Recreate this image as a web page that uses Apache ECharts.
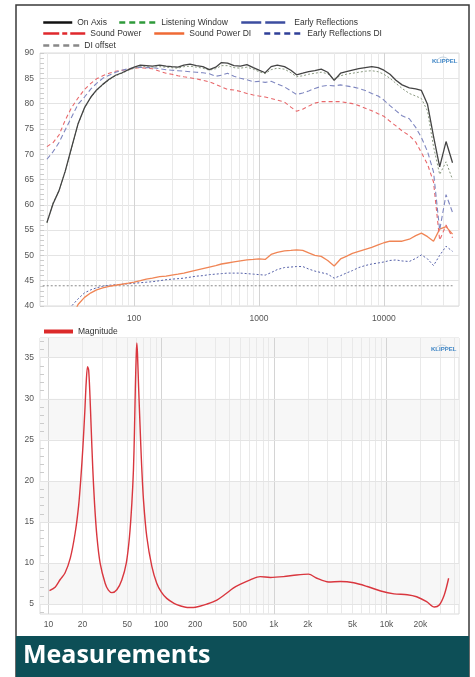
<!DOCTYPE html>
<html>
<head>
<meta charset="utf-8">
<script src="https://cdn.jsdelivr.net/npm/echarts@6/dist/echarts.min.js"></script>
<style>
  html, body { margin: 0; padding: 0; background: #fff; }
  #chart { width: 475px; height: 677px; }
</style>
</head>
<body>
<div id="chart"></div>
<script>
// --- top chart: spinorama (dB), 1/6 octave points ---
const freqs = [20, 22.4, 25, 28, 31.5, 35.5, 40, 45, 50, 56, 63, 71, 80, 90, 100, 112, 125, 140, 160, 180,
  200, 224, 250, 280, 315, 355, 400, 450, 500, 560, 630, 710, 800, 900, 1000, 1120, 1250, 1400, 1600, 1800,
  2000, 2240, 2500, 2800, 3150, 3550, 4000, 4500, 5000, 5600, 6300, 7100, 8000, 9000, 10000, 11200, 12500, 14000, 16000, 18000,
  20000, 22400, 25000, 28000, 31500, 35500]
const onAxis = [56.5, 60.2, 62.8, 66.6, 71.3, 76.0, 79.2, 81.3, 82.7, 83.8, 84.8, 85.6, 86.1, 86.7, 87.2, 87.6, 87.5, 87.4, 87.6, 87.4,
  87.3, 87.2, 87.6, 87.8, 87.5, 87.3, 86.7, 87.2, 88.1, 88.0, 87.5, 87.4, 87.7, 87.1, 86.6, 86.1, 87.3, 87.6, 87.3, 86.6,
  85.7, 86.0, 86.3, 86.5, 86.8, 86.2, 84.6, 86.0, 86.3, 86.6, 86.9, 87.1, 87.3, 87.1, 86.6, 85.8, 84.6, 83.7, 83.1, 82.9,
  82.6, 79.8, 73.5, 67.5, 72.5, 68.3]
const listeningWindow = [56.4, 60.4, 62.8, 66.6, 71.2, 75.9, 79.1, 81.2, 82.6, 83.7, 84.7, 85.5, 86.0, 86.6, 87.0, 87.3, 87.3, 87.2, 87.3, 87.2,
  87.1, 87.0, 87.3, 87.4, 87.2, 87.0, 86.6, 86.9, 87.5, 87.5, 87.1, 87.0, 87.2, 86.8, 86.3, 85.9, 86.7, 87.0, 86.8, 86.1,
  85.3, 85.5, 85.8, 86.0, 86.2, 85.9, 84.9, 85.5, 85.8, 86.0, 86.2, 86.4, 86.5, 86.3, 85.8, 85.0, 84.0, 83.0, 82.0, 81.5,
  81.0, 78.5, 71.5, 66.0, 68.5, 65.0]
const earlyReflections = [69, 70.5, 72.3, 74.8, 77.3, 79.9, 81.3, 82.9, 84.0, 85.0, 85.6, 86.2, 86.6, 86.9, 87.1, 87.2, 87.1, 87.1, 86.9, 86.7,
  86.6, 86.5, 86.4, 86.3, 86.2, 86.1, 85.9, 85.4, 85.6, 86.0, 85.4, 85.0, 84.7, 84.3, 84.4, 84.2, 84.4, 83.9, 83.3, 82.5,
  81.8, 82.1, 82.5, 83.0, 83.4, 83.6, 83.5, 83.7, 83.5, 83.3, 83.0, 82.6, 82.0, 81.5, 80.7, 79.6, 78.6, 77.6, 77.0, 75.3,
  73.3, 70.5, 66.5, 55, 62, 58.5]
const soundPower = [71.5, 72.3, 73.8, 76.7, 79.2, 81.1, 82.8, 84.0, 84.9, 85.5, 86.0, 86.4, 86.6, 86.8, 87.0, 87.1, 87.0, 86.9, 86.4, 86.0,
  85.8, 85.5, 85.3, 85.1, 84.9, 84.6, 84.3, 83.8, 83.3, 82.8, 82.7, 82.4, 82.0, 81.7, 81.5, 81.3, 81.0, 80.7, 80.3, 79.3,
  78.5, 78.9, 79.5, 80.1, 80.4, 80.4, 80.4, 80.4, 80.2, 80.0, 79.6, 79.1, 78.6, 78.0, 77.5, 76.5, 75.6, 74.6, 73.7, 72.4,
  70.3, 68.0, 64.5, 53, 56, 53.5]
const soundPowerDI = [30, 32, 34, 35.5, 37.5, 40.3, 41.7, 42.6, 43.2, 43.6, 43.9, 44.1, 44.3, 44.5, 44.7, 45.0, 45.3, 45.5, 45.8, 45.9,
  46.1, 46.3, 46.5, 46.8, 47.1, 47.4, 47.7, 48.0, 48.3, 48.5, 48.7, 48.9, 49.1, 49.2, 49.3, 49.2, 50.2, 50.6, 50.9, 51.0,
  51.1, 51.0, 50.5, 50.0, 49.8, 49.0, 47.9, 49.3, 49.8, 50.4, 50.8, 51.2, 51.6, 52.1, 52.5, 52.8, 52.8, 52.8, 53.2, 53.9,
  54.4, 53.7, 52.8, 55.2, 55.7, 54.2]
const earlyReflectionsDI = [32, 34, 36, 38, 40, 41.4, 42.6, 43.2, 43.6, 43.9, 44.1, 44.2, 44.3, 44.4, 44.5, 44.6, 44.7, 44.8, 45.0, 45.2,
  45.3, 45.4, 45.5, 45.7, 45.9, 46.0, 46.2, 46.3, 46.4, 46.5, 46.5, 46.5, 46.4, 46.3, 46.2, 46.1, 46.6, 47.2, 47.6, 47.7,
  47.8, 47.8, 47.3, 46.9, 46.6, 46.3, 45.5, 46.0, 46.5, 47.0, 47.6, 48.0, 48.3, 48.5, 48.7, 49.0, 49.1, 48.9, 48.8, 49.4,
  50.1, 49.3, 48.0, 50.0, 51.8, 50.8]
const diOffsetFreqs = [18.5, 35500]
const diOffset = [44, 44]

// --- bottom chart: impedance magnitude (ohm) ---
const impFreqs = [10.2, 11.5, 12.7, 14, 15.6, 17.2, 18.5, 19.4, 20.2, 21, 21.6, 22.2, 22.7, 23.3, 23.9, 24.7, 25.6, 26.9, 28.7, 31.8,
  34, 36.5, 40.4, 44.7, 49, 52.3, 54.9, 56.7, 57.9, 59, 60.1, 60.8, 61.6, 63, 65, 67, 69.7, 74.5, 82.6, 91.3,
  100, 112, 130, 147, 170, 193, 220, 254, 312, 370, 436, 501, 617, 756, 929, 1217, 1590, 2030, 2410, 3060,
  3890, 5120, 6750, 8880, 11660, 15300, 18500, 22700, 26600, 29400, 32600, 35600]
const magnitude = [6.65, 7.1, 8.0, 8.8, 10.6, 13.6, 17.0, 20.5, 24.2, 28.5, 32.0, 33.9, 33.5, 30.5, 26.5, 21.5, 17.3, 13.2, 10.0, 7.55,
  6.7, 6.4, 6.75, 7.95, 10.0, 13.2, 17.3, 21.3, 26.0, 31.5, 35.5, 36.8, 35.5, 31.5, 26.5, 22.0, 17.6, 13.2, 9.6, 7.55,
  6.5, 5.7, 5.1, 4.8, 4.6, 4.6, 4.75, 5.0, 5.5, 6.2, 6.95, 7.4, 7.95, 8.35, 8.25, 8.35, 8.55, 8.65, 8.15, 7.7,
  7.75, 7.6, 7.15, 6.6, 6.25, 6.15, 5.9, 5.3, 4.65, 4.9, 6.15, 8.15]

// axis ticks / labels
const topXLabels = [100, 1000, 10000]
const botXLabels = [10, 20, 50, 100, 200, 500, 1000, 2000, 5000, 10000, 20000]
const botYLabels = [5, 10, 15, 20, 25, 30, 35]
const botYMinor = [4, 5, 6, 7, 8, 9, 10, 11, 12, 13, 14, 15, 16, 17, 18, 19, 20, 21, 22, 23, 24, 25, 26, 27, 28, 29, 30, 31, 32, 33, 34, 35, 36, 37]
const topGridFreqs = [20, 30, 40, 50, 60, 70, 80, 90, 100, 200, 300, 400, 500, 600, 700, 800, 900,
  1000, 2000, 3000, 4000, 5000, 6000, 7000, 8000, 9000, 10000, 20000, 30000]
const botGridFreqs = [10, 20, 30, 40, 50, 60, 70, 80, 90, 100, 200, 300, 400, 500, 600, 700, 800, 900,
  1000, 2000, 3000, 4000, 5000, 6000, 7000, 8000, 9000, 10000, 20000, 30000, 40000]
const decades = [10, 100, 1000, 10000]
const botBands = [[5, 10], [15, 20], [25, 30], [35, 37.4]]

const pair = (xs, ys) => xs.map((x, i) => [x, ys[i]])
const fontFam = '"Liberation Sans", Arial, sans-serif'
const labelStyle = { color: '#555', fontSize: 8.5, fontFamily: fontFam }

const chart = echarts.init(document.getElementById('chart'), null, { renderer: 'canvas' })

function gridLines(freqList) {
  return freqList.map(f => ({
    xAxis: f,
    lineStyle: { color: decades.includes(f) ? '#d4d4d4' : '#e9e9e9', width: 1, type: 'solid' }
  }))
}

// one legend per entry, so each can sit where it sits in the original
function legendItem(name, left, top, width, lineStyle) {
  return {
    data: [{ name: name, lineStyle: lineStyle, itemStyle: { opacity: 0 } }],
    left: left, top: top, padding: 0,
    itemWidth: width, itemHeight: 8,
    selectedMode: false,
    textStyle: { color: '#333', fontSize: 8.5, fontFamily: fontFam, padding: [0, 0, 0, 0] }
  }
}

// shared settings for the curves
function curve(name, xIdx, xs, ys, color, lineStyle, z) {
  return {
    name: name, type: 'line', xAxisIndex: xIdx, yAxisIndex: xIdx,
    symbol: 'none', showSymbol: false, z: z || 3,
    data: pair(xs, ys), color: color, lineStyle: lineStyle
  }
}

const option = {
  animation: false,
  backgroundColor: '#fff',
  legend: [
    legendItem('On Axis', 42, 18, 29, { width: 2.5, type: 'solid', color: '#111', opacity: 1 }),
    legendItem('Listening Window', 118, 18, 37, { width: 2.5, type: [6, 4], color: '#2f9a3b', opacity: 1 }),
    legendItem('Early Reflections', 240, 18, 48, { width: 2.5, type: [20, 4], color: '#3c4da0', opacity: 1 }),
    legendItem('Sound Power', 42, 29, 42, { width: 2.5, type: [16, 3, 5, 3], color: '#e0282d', opacity: 1 }),
    legendItem('Sound Power DI', 153, 29, 30, { width: 2.5, type: 'solid', color: '#ef6a35', opacity: 1 }),
    legendItem('Early Reflections DI', 263, 29, 38, { width: 2.5, type: [6, 4], color: '#2f3f98', opacity: 1 }),
    legendItem('DI offset', 42, 41, 36, { width: 2.5, type: [6, 4], color: '#888', opacity: 1 }),
    legendItem('Magnitude', 42, 327, 29, { width: 4, type: 'solid', color: '#dc2a2a', opacity: 1 })
  ],
  grid: [
    { left: 40, right: 16, top: 53, height: 253, show: true, borderColor: '#dadada', borderWidth: 1, backgroundColor: '#fff' },
    { left: 40, right: 16, top: 338, height: 276, show: true, borderColor: '#dadada', borderWidth: 1, backgroundColor: '#fff' }
  ],
  xAxis: [
    {
      type: 'log', gridIndex: 0, min: 17.6, max: 40000, logBase: 10,
      axisLine: { show: false }, axisTick: { show: false }, splitLine: { show: false },
      axisLabel: Object.assign({ customValues: topXLabels, margin: 8, formatter: v => String(v) }, labelStyle)
    },
    {
      type: 'log', gridIndex: 1, min: 8.4, max: 44000, logBase: 10,
      axisLine: { show: false }, axisTick: { show: false }, splitLine: { show: false },
      axisLabel: Object.assign({
        customValues: botXLabels, margin: 6,
        formatter: v => (v >= 1000 ? (v / 1000) + 'k' : String(v))
      }, labelStyle)
    }
  ],
  yAxis: [
    {
      type: 'value', gridIndex: 0, min: 40, max: 90, interval: 5,
      axisLine: { show: false },
      axisTick: { show: true, inside: true, length: 4, lineStyle: { color: '#ccc' } },
      minorTick: { show: true, splitNumber: 5, length: 4, lineStyle: { color: '#ccc' } },
      splitLine: { show: true, lineStyle: { color: '#e4e4e4' } },
      axisLabel: Object.assign({ margin: 6 }, labelStyle)
    },
    {
      type: 'value', gridIndex: 1, min: 3.8, max: 37.4,
      axisLine: { show: false },
      axisTick: { show: true, inside: true, length: 4, customValues: botYMinor, lineStyle: { color: '#ccc' } },
      splitLine: { show: false },
      axisLabel: Object.assign({ margin: 6, customValues: botYLabels }, labelStyle)
    }
  ],
  series: [
    {
      name: 'gridTop', type: 'line', xAxisIndex: 0, yAxisIndex: 0, data: [], silent: true,
      markLine: { silent: true, symbol: 'none', z: 1, label: { show: false }, data: gridLines(topGridFreqs) }
    },
    {
      name: 'gridBottom', type: 'line', xAxisIndex: 1, yAxisIndex: 1, data: [], silent: true,
      markArea: { silent: true, z: 0, itemStyle: { color: '#f7f7f7' },
        data: botBands.map(b => [{ yAxis: b[0] }, { yAxis: b[1] }]) },
      markLine: { silent: true, symbol: 'none', z: 1, label: { show: false },
        data: gridLines(botGridFreqs).concat(botYLabels.map(v => ({ yAxis: v, lineStyle: { color: '#e4e4e4', width: 1, type: 'solid' } }))) }
    },
    curve('DI offset', 0, diOffsetFreqs, diOffset, '#888', { color: '#8a8a8a', width: 1, type: [2, 2] }),
    curve('Early Reflections DI', 0, freqs, earlyReflectionsDI, '#2f3f98', { color: '#5560a8', width: 1, type: [2, 2] }),
    curve('Sound Power DI', 0, freqs, soundPowerDI, '#ef6a35', { color: '#f08555', width: 1.3 }),
    curve('Sound Power', 0, freqs, soundPower, '#e0282d', { color: '#e8676a', width: 1.1, type: [4, 3] }),
    curve('Early Reflections', 0, freqs, earlyReflections, '#3c4da0', { color: '#7f87c0', width: 1.1, type: [5, 3] }),
    curve('Listening Window', 0, freqs, listeningWindow, '#2f9a3b', { color: '#8a9a80', width: 1, type: [2, 2] }),
    curve('On Axis', 0, freqs, onAxis, '#111', { color: '#444', width: 1.3 }, 4),
    Object.assign(curve('Magnitude', 1, impFreqs, magnitude, '#dc2a2a', { color: '#d9363e', width: 1.4 }, 4), { smooth: 0.3 })
  ],
  graphic: [
    // frame
    { type: 'rect', z: 100, shape: { x: 16, y: 5, width: 453, height: 680 },
      style: { fill: null, stroke: '#3a3a3a', lineWidth: 1.5 } },
    // banner
    { type: 'rect', z: 101, shape: { x: 16, y: 636, width: 453, height: 41 }, style: { fill: '#0d4f57' } },
    { type: 'text', z: 102, left: 23, top: 643,
      style: { text: 'Measurements', fill: '#fff', font: 'bold 25px "Open Sans", sans-serif' } },
    // KLIPPEL marks
    { type: 'text', z: 50, left: 432, top: 58,
      style: { text: 'KLIPPEL', fill: '#3f86c6', font: 'bold 6px ' + fontFam } },
    { type: 'arc', z: 50, shape: { cx: 443, cy: 64, r: 7, startAngle: Math.PI * 1.15, endAngle: Math.PI * 1.85 },
      style: { stroke: '#9bb6cc', fill: null, lineWidth: 0.6 } },
    { type: 'text', z: 50, left: 431, top: 346,
      style: { text: 'KLIPPEL', fill: '#3f86c6', font: 'bold 6px ' + fontFam } },
    { type: 'arc', z: 50, shape: { cx: 442, cy: 352, r: 7, startAngle: Math.PI * 1.15, endAngle: Math.PI * 1.85 },
      style: { stroke: '#9bb6cc', fill: null, lineWidth: 0.6 } }
  ]
}

chart.setOption(option)
</script>
</body>
</html>
